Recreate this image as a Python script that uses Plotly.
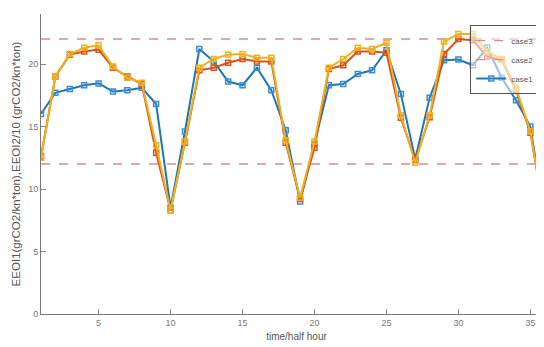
import plotly.graph_objects as go

t = list(range(1, 37))
case1 = [16.0, 17.7, 18.0, 18.3, 18.45, 17.8, 17.9, 18.1, 16.8, 8.5,
         14.6, 21.2, 20.2, 18.6, 18.3, 19.7, 17.9, 14.7, 9.0, 13.6,
         18.3, 18.4, 19.2, 19.5, 21.1, 17.6, 12.4, 17.3, 20.3, 20.35,
         19.9, 21.3, 18.9, 17.1, 15.0, 7.7]
case2 = [12.6, 19.0, 20.75, 21.0, 21.15, 19.7, 19.0, 18.4, 12.9, 8.3,
         13.7, 19.5, 19.7, 20.1, 20.4, 20.2, 20.2, 13.7, 9.2, 13.3,
         19.6, 19.9, 21.0, 21.0, 20.9, 15.7, 12.3, 15.75, 20.8, 22.0,
         21.9, 20.6, 20.35, 17.9, 14.5, 7.7]
case3 = [12.5, 19.0, 20.8, 21.3, 21.5, 19.8, 18.9, 18.5, 13.5, 8.3,
         13.8, 19.7, 20.4, 20.75, 20.8, 20.5, 20.5, 13.9, 9.3, 13.8,
         19.7, 20.4, 21.3, 21.2, 21.7, 15.9, 12.1, 15.9, 21.8, 22.4,
         22.4, 21.0, 20.4, 18.1, 14.6, 7.7]
upper_limit = 22
lower_limit = 12
x_range = [1, 36.5]

font = "Liberation Sans, Arial, sans-serif"
dash_color = "#d98a94"

fig = go.Figure()
fig.add_trace(go.Scatter(x=x_range, y=[upper_limit] * 2, mode="lines", name="case3",
                         line=dict(color=dash_color, width=1.3, dash="dash")))
fig.add_trace(go.Scatter(x=x_range, y=[lower_limit] * 2, mode="lines", name="case2",
                         line=dict(color=dash_color, width=1.3, dash="dash")))
fig.add_trace(go.Scatter(x=t, y=case1, mode="lines+markers", name="case1",
                         line=dict(color="#1f77b4", width=2),
                         marker=dict(symbol="square-open", size=5, color="#3a8ed0",
                                     line=dict(width=1.5))))
fig.add_trace(go.Scatter(x=t, y=case2, mode="lines+markers", name="case2b", showlegend=False,
                         line=dict(color="#d95319", width=2),
                         marker=dict(symbol="square-open", size=5, color="#d95319",
                                     line=dict(width=1.5))))
fig.add_trace(go.Scatter(x=t, y=case3, mode="lines+markers", name="case3b", showlegend=False,
                         line=dict(color="#edb120", width=2),
                         marker=dict(symbol="square-open", size=5, color="#edb120",
                                     line=dict(width=1.5))))

fig.update_layout(
    width=544, height=347,
    margin=dict(l=33, r=0, t=6, b=41, autoexpand=False),
    paper_bgcolor="white", plot_bgcolor="white",
    font=dict(family=font, size=9, color="#666"),
    legend=dict(x=0.84, y=0.963, xanchor="left", yanchor="top",
                bgcolor="rgba(255,255,255,0.55)", bordercolor="#555", borderwidth=1,
                font=dict(size=8, color="#555"), itemwidth=30,
                tracegroupgap=0),
    xaxis=dict(range=x_range, tickvals=[5, 10, 15, 20, 25, 30, 35],
               ticks="inside", ticklen=5, tickcolor="#888", showgrid=False,
               zeroline=False, showline=True, linecolor="#777", linewidth=1,
               tickfont=dict(size=9, color="#777"),
               title=dict(text="time/half hour", font=dict(size=10, color="#555"), standoff=6)),
    yaxis=dict(range=[0, 24], tickvals=[0, 5, 10, 15, 20],
               ticks="inside", ticklen=5, tickcolor="#888", showgrid=False,
               zeroline=False, showline=True, linecolor="#777", linewidth=1,
               tickfont=dict(size=9, color="#777"),
               title=dict(text="EEOI1(grCO2/kn*ton),EEOI2/10 (grCO2/kn*ton)",
                          font=dict(size=11.5, color="#555"), standoff=5)),
)

fig.write_html("out.html")
